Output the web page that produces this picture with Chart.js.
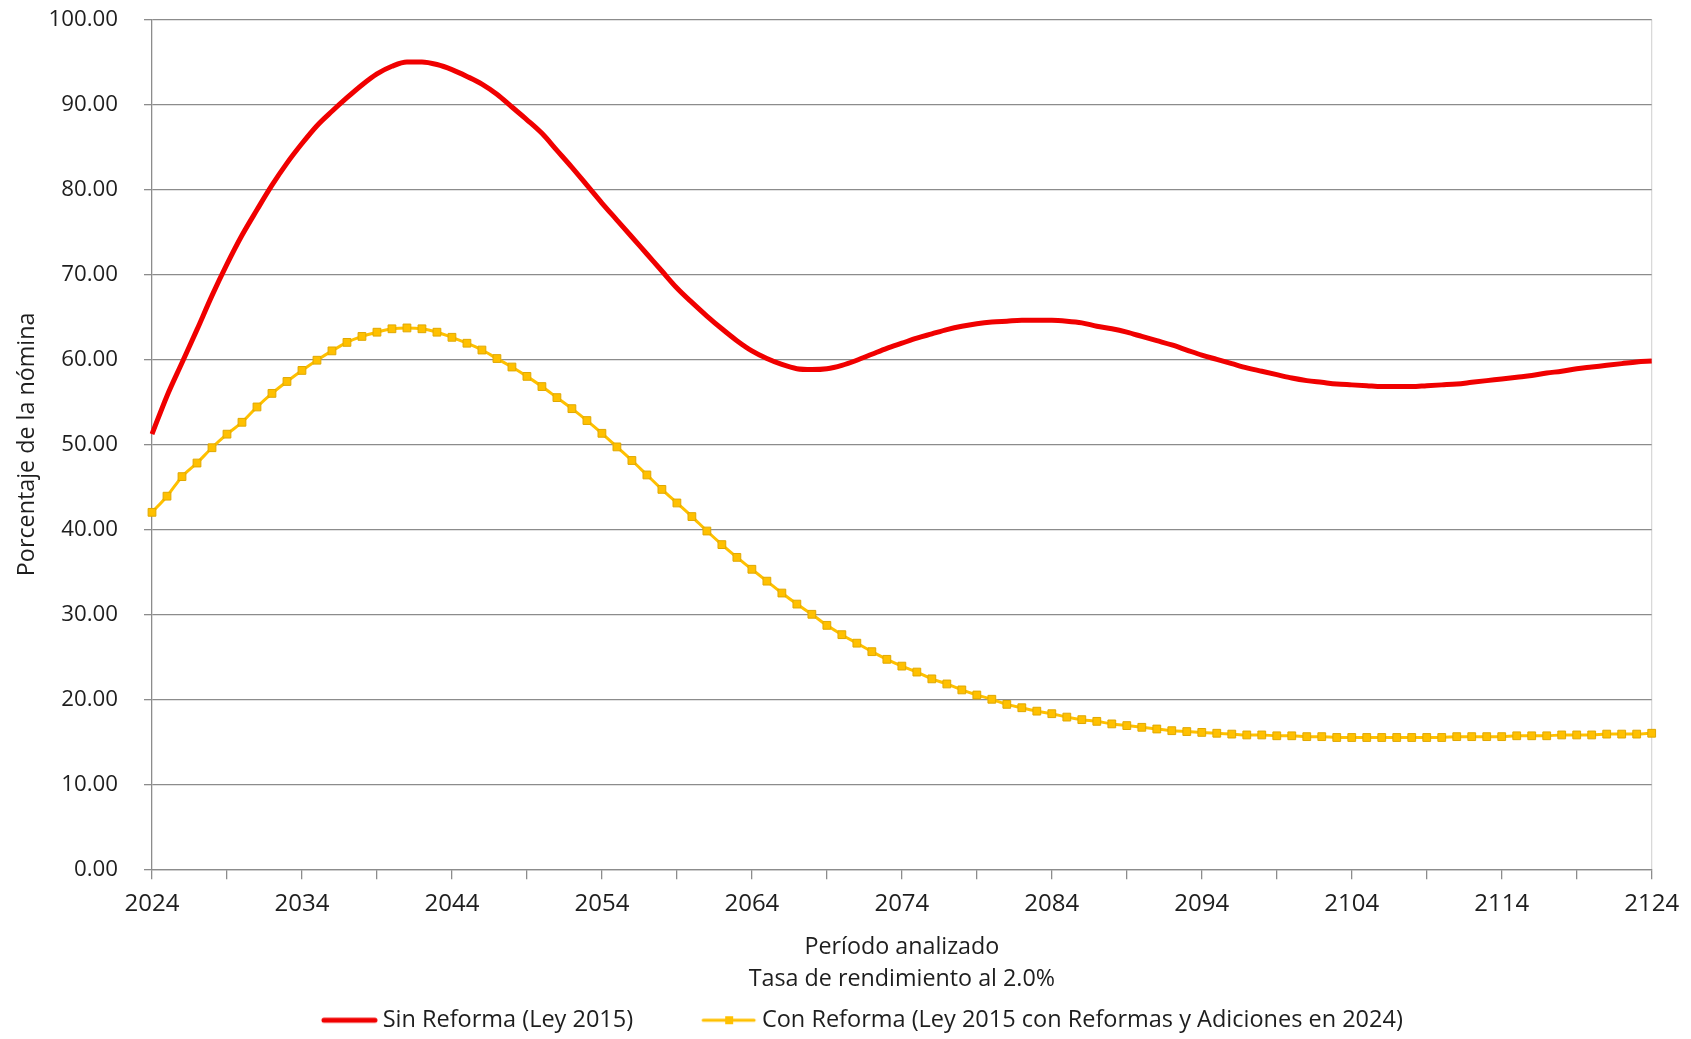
<!DOCTYPE html>
<html>
<head>
<meta charset="utf-8">
<script src="https://cdn.jsdelivr.net/npm/chart.js@4.4.1/dist/chart.umd.min.js"></script>
<style>
html, body { margin: 0; padding: 0; background: #fff; }
#wrap { width: 1691px; height: 1039px; }
</style>
</head>
<body>
<div id="wrap"><canvas id="chart" width="1691" height="1039"></canvas></div>
<script>
// años 2024..2124
const firstYear = 2024;
const lastYear = 2124;
const years = [];
for (let y = firstYear; y <= lastYear; y++) years.push(String(y));

const xTickLabels = ["2024", "2034", "2044", "2054", "2064", "2074", "2084", "2094", "2104", "2114", "2124"];

const sinReforma = [
    51.2, 55.7, 59.6, 63.5, 67.5, 71.2, 74.6, 77.6, 80.5, 83.1,
    85.4, 87.5, 89.2, 90.8, 92.3, 93.6, 94.5, 95.0, 95.0, 94.7,
    94.1, 93.3, 92.4, 91.2, 89.7, 88.2, 86.6, 84.6, 82.6, 80.5,
    78.4, 76.4, 74.4, 72.4, 70.4, 68.4, 66.7, 65.1, 63.6, 62.2,
    61.0, 60.1, 59.4, 58.9, 58.8, 58.9, 59.3, 59.9, 60.6, 61.3,
    61.9, 62.5, 63.0, 63.5, 63.9, 64.2, 64.4, 64.5, 64.6, 64.6,
    64.6, 64.5, 64.3, 63.9, 63.6, 63.2, 62.7, 62.2, 61.7, 61.1,
    60.5, 60.0, 59.5, 59.0, 58.6, 58.2, 57.8, 57.5, 57.3, 57.1,
    57.0, 56.9, 56.8, 56.8, 56.8, 56.9, 57.0, 57.1, 57.3, 57.5,
    57.7, 57.9, 58.1, 58.4, 58.6, 58.9, 59.1, 59.3, 59.5, 59.7,
    59.8
];

const conReforma = [
    42.0, 43.9, 46.2, 47.8, 49.6, 51.2, 52.6, 54.4, 56.0, 57.4,
    58.7, 59.9, 61.0, 62.0, 62.7, 63.2, 63.6, 63.7, 63.6, 63.2,
    62.6, 61.9, 61.1, 60.1, 59.1, 58.0, 56.8, 55.5, 54.2, 52.8,
    51.3, 49.7, 48.1, 46.4, 44.7, 43.1, 41.5, 39.8, 38.2, 36.7,
    35.3, 33.9, 32.5, 31.2, 30.0, 28.7, 27.6, 26.6, 25.6, 24.7,
    23.9, 23.2, 22.4, 21.8, 21.1, 20.5, 20.0, 19.4, 19.0, 18.6,
    18.3, 17.9, 17.6, 17.4, 17.1, 16.9, 16.7, 16.5, 16.3, 16.2,
    16.1, 16.0, 15.9, 15.8, 15.8, 15.7, 15.7, 15.6, 15.6, 15.5,
    15.5, 15.5, 15.5, 15.5, 15.5, 15.5, 15.5, 15.6, 15.6, 15.6,
    15.6, 15.7, 15.7, 15.7, 15.8, 15.8, 15.8, 15.9, 15.9, 15.9,
    16.0
];

const seriesNames = ["Sin Reforma (Ley 2015)", "Con Reforma (Ley 2015 con Reformas y Adiciones en 2024)"];
const yTitle = "Porcentaje de la nómina";
const xTitle = ["Período analizado", "Tasa de rendimiento al 2.0%"];

const RED = "#f00000";
const GOLD = "#ffc000";
const GRID = "#8c8c8c";
const TEXT = "#1e1e1e";
const FONT = "'Open Sans', 'Noto Sans', sans-serif";

// muestras de leyenda (línea, y línea con marcador)
function legendSample(color, width, marker) {
    const c = document.createElement("canvas");
    c.width = 124;
    c.height = 14;
    const g = c.getContext("2d");
    g.strokeStyle = color;
    g.lineWidth = width;
    g.lineCap = "round";
    g.beginPath();
    g.moveTo(70, 7);
    g.lineTo(121, 7);
    g.stroke();
    if (marker) {
        g.fillStyle = color;
        g.fillRect(92, 3, 8, 8);
    }
    return c;
}

const samples = [legendSample(RED, 5, false), legendSample(GOLD, 3, true)];

new Chart(document.getElementById("chart"), {
    type: "line",
    data: {
        labels: years,
        datasets: [{
            label: seriesNames[0],
            data: sinReforma,
            borderColor: RED,
            borderWidth: 5,
            pointRadius: 0,
            cubicInterpolationMode: "monotone",
            fill: false
        }, {
            label: seriesNames[1],
            data: conReforma,
            borderColor: GOLD,
            borderWidth: 3,
            pointStyle: "rect",
            pointRadius: 5.5,
            pointBackgroundColor: GOLD,
            pointBorderColor: "#e0a800",
            pointBorderWidth: 1,
            cubicInterpolationMode: "monotone",
            fill: false
        }]
    },
    options: {
        responsive: false,
        animation: false,
        devicePixelRatio: 1,
        layout: { padding: { top: 0, right: 39.3, bottom: -3, left: 12 } },
        plugins: {
            tooltip: { enabled: false },
            legend: {
                position: "bottom",
                labels: {
                    usePointStyle: true,
                    pointStyleWidth: 110,
                    padding: 7,
                    color: TEXT,
                    font: { family: FONT, size: 23.5 },
                    generateLabels: chart => chart.data.datasets.map((ds, i) => ({
                        text: ds.label,
                        pointStyle: samples[i],
                        fillStyle: "rgba(0,0,0,0)",
                        strokeStyle: "rgba(0,0,0,0)",
                        lineWidth: 0,
                        hidden: false,
                        datasetIndex: i,
                        fontColor: TEXT
                    }))
                }
            }
        },
        scales: {
            x: {
                type: "category",
                ticks: {
                    autoSkip: false,
                    maxRotation: 0,
                    padding: 11,
                    color: TEXT,
                    font: { family: FONT, size: 24 },
                    callback: (value, index) => xTickLabels.includes(years[index]) ? years[index] : ""
                },
                grid: {
                    drawOnChartArea: true,
                    lineWidth: 1.3,
                    tickLength: 10,
                    color: ctx => ctx.index === years.length - 1 ? "#d9d9d9" : "rgba(0,0,0,0)",
                    tickColor: ctx => ctx.index % 5 === 0 ? GRID : "rgba(0,0,0,0)"
                },
                border: { color: GRID, width: 1.3 },
                title: {
                    display: true,
                    text: xTitle,
                    color: TEXT,
                    font: { family: FONT, size: 23.3, lineHeight: 32 / 23.3 },
                    padding: { top: 0, bottom: 6 }
                },
                afterFit: scale => { scale.height = 132.3; }
            },
            y: {
                min: 0,
                max: 100,
                ticks: {
                    stepSize: 10,
                    padding: 26,
                    color: TEXT,
                    font: { family: FONT, size: 22.3 },
                    callback: v => v.toFixed(2)
                },
                grid: { color: GRID, lineWidth: 1.3, tickLength: 8, tickColor: GRID },
                border: { color: GRID, width: 1.3 },
                title: {
                    display: true,
                    text: yTitle,
                    color: TEXT,
                    font: { family: FONT, size: 23.3 },
                    padding: { top: 1, bottom: 0 }
                },
                afterFit: scale => {
                    scale.width = 140;
                    scale.paddingTop = 19.5;
                    scale.paddingBottom = 10;
                }
            }
        }
    }
});
</script>
</body>
</html>
